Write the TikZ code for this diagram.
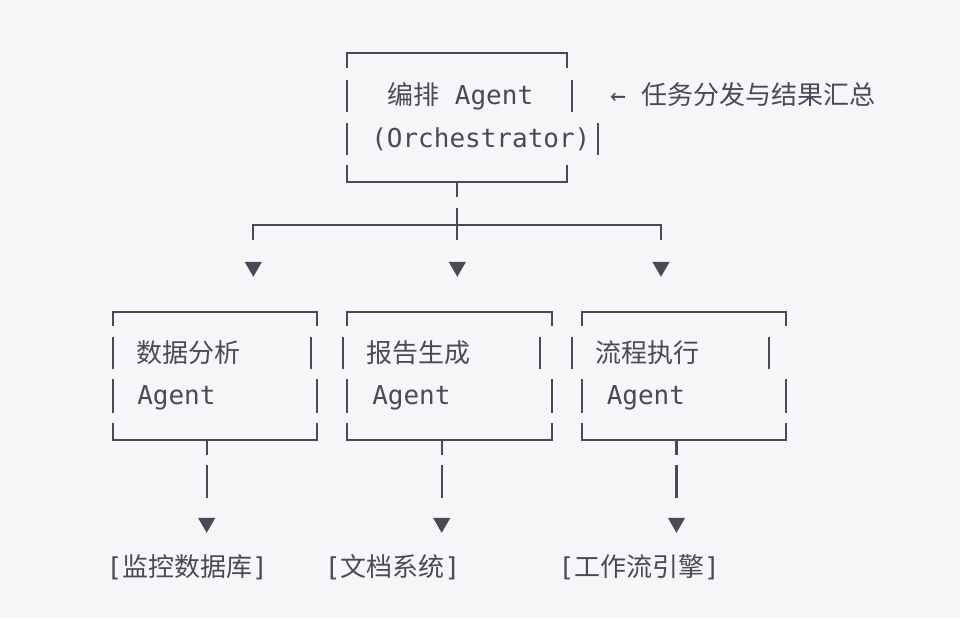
\documentclass[tikz,border=0pt]{standalone}
\usepackage{fontspec}
\setmonofont{DejaVu Sans Mono}
\newfontfamily\cjk{Noto Sans CJK SC}
\usetikzlibrary{shapes.geometric}
\definecolor{ink}{HTML}{4A4A56}
\definecolor{paper}{HTML}{F5F6F8}

\begin{document}
\begin{tikzpicture}[x=0.75pt,y=-0.75pt,
  ascii/.style={draw=ink,line width=1.6pt},
  txt/.style={inner sep=0pt,anchor=base west,text=ink,font=\ttfamily\fontsize{19.5}{19.5}\selectfont},
  lbl/.style={txt,anchor=base},
  tip/.style={regular polygon,regular polygon sides=3,shape border rotate=180,fill=ink,inner sep=0pt,minimum size=15pt},
  gap/.style={dash pattern=on 11.25pt off 7.5pt on 25pt off 40pt}]
  \fill[paper] (0,0) rectangle (960,618);

  % orchestrator box
  \draw[ascii] (346.7,68) -- (346.7,53.3) -- (567.3,53.3) -- (567.3,68);
  \draw[ascii] (346.7,165) -- (346.7,182) -- (567.3,182) -- (567.3,165);
  \draw[ascii] (346.7,80) -- (346.7,112) (571.7,80) -- (571.7,112);
  \draw[ascii] (346.7,123) -- (346.7,155) (598,123) -- (598,155);
  \node[txt] (orch1) at (387,104) {{\cjk 编排} Agent};
  \node[txt] (orch2) at (371,147) {(Orchestrator)};
  \node[txt] (note) at (610,104) {← {\cjk 任务分发与结果汇总}};

  % fan out
  \coordinate (orch) at (457.3,182);
  \coordinate (hub) at (457.3,240);
  \coordinate (hubL) at (253.3,240);
  \coordinate (hubR) at (661,240);
  \draw[ascii, dash pattern=on 11.25pt off 8.25pt on 30pt] (orch) -- (hub);
  \draw[ascii] (hubL) -- (253.3,225) -- (661,225) -- (hubR);
  \node[tip] (t1) at (253.3,266.8) {};
  \node[tip] (t2) at (457.3,266.8) {};
  \node[tip] (t3) at (661,266.8) {};

  % agent boxes
  \foreach \l/\r/\la/\ra in {112.7/316.7/112.7/311, 347.3/551.7/342.7/540, 582.3/786/571.7/769.3}{
    \draw[ascii] (\l,326) -- (\l,311.7) -- (\r,311.7) -- (\r,326);
    \draw[ascii] (\l,422.7) -- (\l,440) -- (\r,440) -- (\r,422.7);
    \draw[ascii] (\la,336.7) -- (\la,369) (\ra,336.7) -- (\ra,369);
    \draw[ascii] (\l,379) -- (\l,412.7) (\r,379) -- (\r,412.7);
  }
  \node[txt] (ana1) at (136,362) {{\cjk 数据分析}};
  \node[txt] (ana2) at (137,404) {Agent};
  \node[txt] (rep1) at (366,362) {{\cjk 报告生成}};
  \node[txt] (rep2) at (372,404) {Agent};
  \node[txt] (flow1) at (595.5,362) {{\cjk 流程执行}};
  \node[txt] (flow2) at (606.5,404) {Agent};

  % outputs
  \coordinate (ana) at (206.7,440);
  \coordinate (rep) at (441.7,440);
  \coordinate (flow) at (676.5,440);
  \node[tip] (anaTip) at (206.7,522.8) {};
  \node[tip] (repTip) at (441.7,522.8) {};
  \node[tip] (flowTip) at (676.5,522.8) {};
  \draw[ascii,gap] (ana) -- (anaTip.north);
  \draw[ascii,gap] (rep) -- (repTip.north);
  \draw[ascii,gap] (flow) -- (flowTip.north);
  \node[lbl] (anaL) at (187.2,576) {[{\cjk 监控数据库}]};
  \node[lbl] (repL) at (392.5,576) {[{\cjk 文档系统}]};
  \node[lbl] (flowL) at (639.2,576) {[{\cjk 工作流引擎}]};
\end{tikzpicture}
\end{document}
